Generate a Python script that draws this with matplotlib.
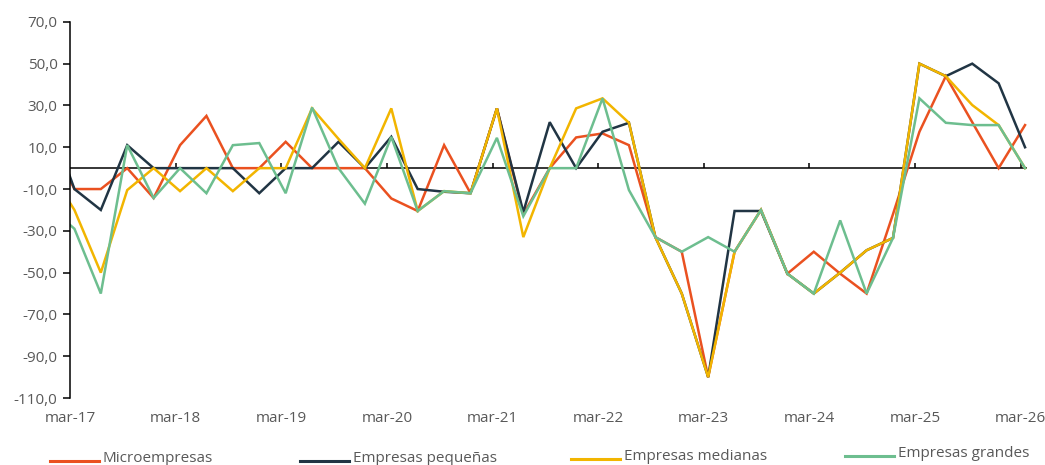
import matplotlib.pyplot as plt
from matplotlib.lines import Line2D

plt.rcParams['font.family'] = ['Open Sans', 'DejaVu Sans']

# quarterly series, dic-16 .. mar-26 (first point falls left of the axis and is clipped)
micro = [15, -10, -10, 0, -14.3, 11, 25, 0, 0, 12.6, 0, 0, 0, -14.5, -20.5, 11, -12,
         28.6, -22, 0, 14.7, 16.6, 11, -33, -40, -100, -40, -20, -50.5, -40, -50.5,
         -60, -22, 17.4, 44, 22, 0, 20.6]
pequenas = [25, -10, -20, 11, 0, 0, 0, 0, -12, 0, 0, 12.6, 0, 15, -10, -11.3, -12,
            28.6, -21, 22, 0, 17.4, 21.7, -33, -60, -100, -20.5, -20.5, -50.5, -60, -50,
            -39.3, -33.4, 50, 44, 50, 40.6, 10]
medianas = [0, -20, -50, -10.5, 0, -11, 0, -11, 0, 0, 28.6, 14, 0, 28.6, -20.5, -11, -12,
            28.6, -33, 0, 28.6, 33.4, 21.7, -33, -60, -100, -40, -20, -50.5, -60, -50,
            -39.3, -33.4, 50, 44, 30.2, 20.6, 0]
grandes = [-18, -29, -60, 11, -14.3, 0, -12, 11, 12, -12, 29, 0, -17, 15, -20.5, -11, -12,
           14.5, -23, 0, 0, 33.4, -10.5, -33, -40, -33, -40, -20, -50.5, -60, -25,
           -60, -33.4, 33.4, 21.7, 20.6, 20.6, 0]

year_labels = ['mar-17', 'mar-18', 'mar-19', 'mar-20', 'mar-21',
               'mar-22', 'mar-23', 'mar-24', 'mar-25', 'mar-26']

# x in months from mar-17; data dated mid-month, one quarter apart
x = [3 * k + 0.5 for k in range(-1, len(micro) - 1)]
tick_x = [12 * i for i in range(len(year_labels))]

series = [
    ('Microempresas', micro, '#EA5120'),
    ('Empresas pequeñas', pequenas, '#213544'),
    ('Empresas medianas', medianas, '#F2B500'),
    ('Empresas grandes', grandes, '#6DBE8F'),
]

fig = plt.figure(figsize=(10.45, 4.65), dpi=100)
ax = fig.add_axes([0.067, 0.144, 0.916, 0.809])

ax.axhline(0, color='black', lw=1.1, zorder=1)
ax.vlines(tick_x[1:], 0, 2.6, color='black', lw=1.1, zorder=1)

for name, vals, col in series:
    ax.plot(x, vals, color=col, lw=1.8, zorder=2, solid_joinstyle='miter')

ax.set_xlim(0, 108.75)
ax.set_ylim(-110, 70)
ax.set_yticks(range(-110, 71, 20))
ax.set_yticklabels([f'{v:.1f}'.replace('.', ',') for v in range(-110, 71, 20)])
ax.set_xticks(tick_x)
ax.set_xticklabels(year_labels)

for s in ['top', 'right', 'bottom']:
    ax.spines[s].set_visible(False)
ax.spines['left'].set_color('black')
ax.spines['left'].set_linewidth(1.1)
ax.tick_params(axis='y', direction='out', length=5, width=1.1, colors='black',
               labelcolor='#595959', labelsize=11, pad=4)
ax.tick_params(axis='x', length=0, labelcolor='#595959', labelsize=11, pad=9)

# legend drawn by hand, entries spread along the bottom edge
leg_pos = [(50, 461, 458), (300, 461, 458), (571, 459, 456), (845, 456, 453)]
W, H = 1045, 465
for (name, vals, col), (lx, ly, ty) in zip(series, leg_pos):
    fig.add_artist(Line2D([lx / W, (lx + 49) / W], [1 - ly / H, 1 - ly / H],
                          color=col, lw=2.2, transform=fig.transFigure))
    fig.text((lx + 53) / W, 1 - ty / H, name, fontsize=11, color='#595959',
             va='center', ha='left')

fig.savefig('out.png', dpi=100)
